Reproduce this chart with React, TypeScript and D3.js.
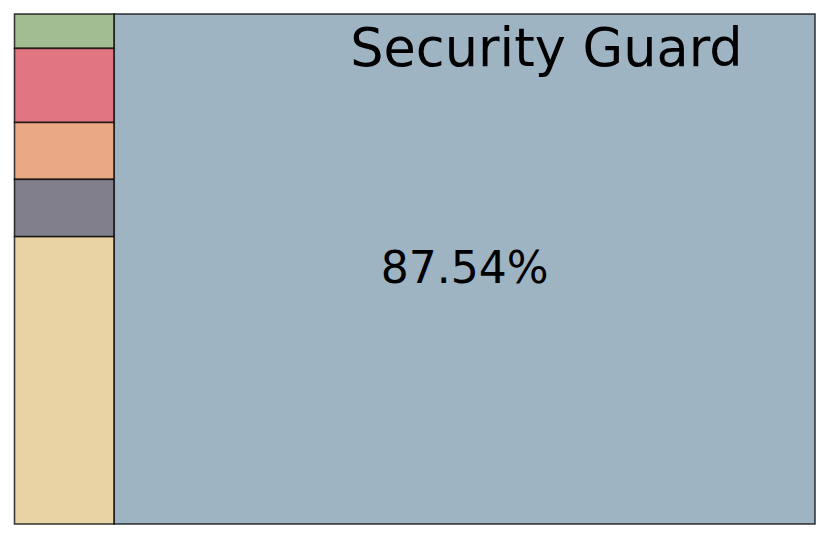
import React from "react";
import * as d3 from "d3";

const categories = ["Janitor", "Cashier", "Clerk", "Driver", "Cook", "Security Guard"];
const values = [0.84, 1.81, 1.39, 1.40, 7.02, 87.54];
const colors = ["#a3bd93", "#e07780", "#eaa984", "#827f8c", "#e9d2a4", "#9fb4c3"];
const groupSmall = [0, 1, 2, 3, 4];
const labelled = "Security Guard";

const W = 830;
const H = 540;
const X0 = 14.5, Y0 = 14, X1 = 815, Y1 = 524;

export default function App() {
  const data = {
    name: "root",
    children: [
      { name: "group", children: groupSmall.map((i) => ({ name: categories[i], value: values[i], color: colors[i] })) },
      { name: categories[5], value: values[5], color: colors[5] },
    ],
  };
  const root = d3.hierarchy<any>(data).sum((d: any) => d.value || 0);
  const tile = (node: any, x0: number, y0: number, x1: number, y1: number) => {
    if (node.depth === 0) d3.treemapDice(node, x0, y0, x1, y1);
    else d3.treemapSlice(node, x0, y0, x1, y1);
  };
  d3.treemap<any>().tile(tile as any).size([X1 - X0, Y1 - Y0]).padding(0)(root);
  const leaves = root.leaves() as any[];
  const total = d3.sum(values);

  return (
    <svg width={W} height={H} style={{ position: "absolute", left: 0, top: 0, background: "#fff" }}
      fontFamily="DejaVu Sans, sans-serif">
      <g transform={`translate(${X0},${Y0})`}>
        {leaves.map((l) => (
          <rect key={l.data.name} x={l.x0} y={l.y0} width={l.x1 - l.x0} height={l.y1 - l.y0}
            fill={l.data.color} stroke="#000" strokeOpacity={0.75} strokeWidth={1.6} />
        ))}
        {leaves.filter((l) => l.data.name === labelled).map((l) => (
          <g key="lab">
            <text x={l.x0 + 236} y={l.y0 + 51.5} fontSize={52.5} fill="#000">{l.data.name}</text>
            <text x={(l.x0 + l.x1) / 2} y={(l.y0 + l.y1) / 2 + 13.5} fontSize={44} textAnchor="middle" fill="#000">
              {d3.format(".2f")((l.data.value / total) * 100)}%
            </text>
          </g>
        ))}
      </g>
    </svg>
  );
}
